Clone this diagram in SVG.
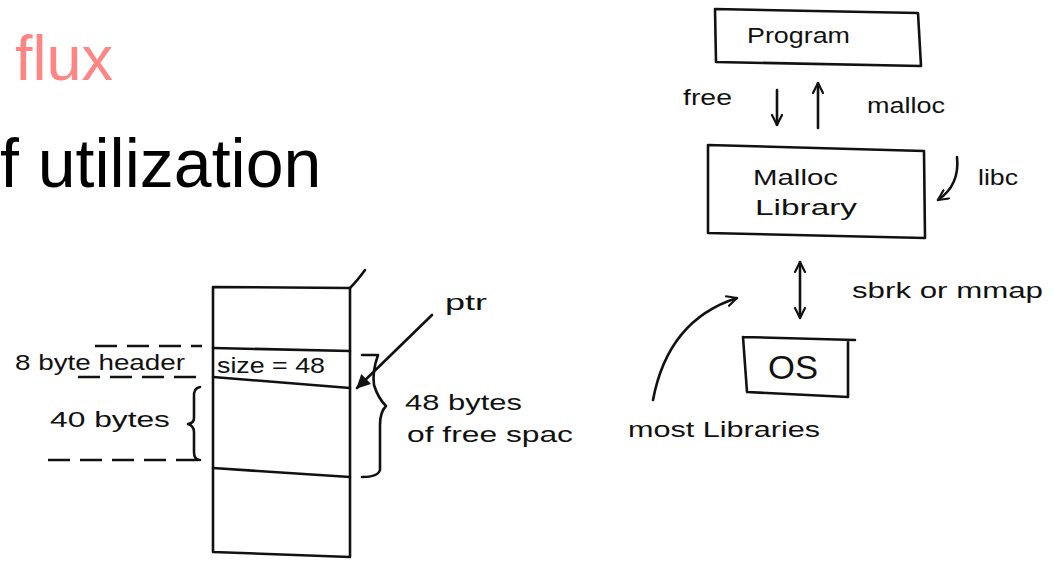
<svg xmlns="http://www.w3.org/2000/svg" width="1054" height="562" viewBox="0 0 1054 562">
<style>
.ln{fill:none;stroke:#111;stroke-width:2.6;stroke-linecap:round;stroke-linejoin:round}
.ds{fill:none;stroke:#111;stroke-width:2.6;stroke-dasharray:22 10}
.hw{font-family:"Liberation Sans",Arial,sans-serif;font-size:22px;fill:#111}
.big{font-size:34px}
.title{font-family:"Liberation Sans",Arial,sans-serif}
</style>
<defs>
<marker id="open" viewBox="0 0 12 12" refX="11" refY="6" markerWidth="12" markerHeight="12" markerUnits="userSpaceOnUse" orient="auto-start-reverse">
<path d="M1,1 L11,6 L1,11" fill="none" stroke="#111" stroke-width="2.2" stroke-linecap="round" stroke-linejoin="round"/>
</marker>
<marker id="solid" viewBox="0 0 12 12" refX="11" refY="6" markerWidth="14" markerHeight="14" markerUnits="userSpaceOnUse" orient="auto">
<path d="M0,0 L12,6 L0,12 Z" fill="#111"/>
</marker>
</defs>
<rect width="1054" height="562" fill="#fff"/>
<text class="title" x="15" y="80" font-size="63" fill="#ff8585">flux</text>
<text class="title" x="0" y="187" font-size="68" fill="#000">f utilization</text>

<g id="memory-block">
<polygon class="ln" points="213,287 350,288 350,557 213,552"/>
<path class="ln" d="M350,288 Q357,281 365,270"/>
<line class="ln" x1="213" y1="348" x2="350" y2="351"/>
<line class="ln" x1="213" y1="377" x2="350" y2="388"/>
<line class="ln" x1="213" y1="468" x2="350" y2="477"/>
<text class="hw" x="217" y="373" textLength="108" lengthAdjust="spacingAndGlyphs">size = 48</text>
</g>
<g id="header-label">
<text class="hw" x="15" y="370" textLength="170" lengthAdjust="spacingAndGlyphs">8 byte header</text>
<line class="ds" x1="95" y1="346" x2="202" y2="346"/>
<line class="ds" x1="78" y1="377" x2="200" y2="377"/>
</g>
<g id="payload-label">
<text class="hw" x="50" y="427" textLength="120" lengthAdjust="spacingAndGlyphs">40 bytes</text>
<path class="ln" d="M200,387 Q193,388 194,398 L194,418 Q194,423 188,424 Q194,426 194,432 L194,452 Q194,460 200,460"/>
<line class="ds" x1="48" y1="460" x2="200" y2="460"/>
</g>
<g id="free-space-label">
<path class="ln" d="M362,355 L378,355 Q372,372 374,385 Q378,398 386,406 Q380,412 380,425 L380,470 Q378,477 362,477"/>
<text class="hw" x="405" y="410" textLength="117" lengthAdjust="spacingAndGlyphs">48 bytes</text>
<text class="hw" x="407" y="442" textLength="166" lengthAdjust="spacingAndGlyphs">of free spac</text>
</g>
<g id="ptr">
<text class="hw" x="445" y="310" textLength="42" lengthAdjust="spacingAndGlyphs">ptr</text>
</g>

<g id="program">
<polygon class="ln" points="715,9 918,13 921,66 716,62"/>
<text class="hw" x="747" y="43" textLength="103" lengthAdjust="spacingAndGlyphs">Program</text>
</g>
<g id="malloc-library">
<polygon class="ln" points="708,145 924,151 925,238 708,233"/>
<text class="hw" x="753" y="185" textLength="85" lengthAdjust="spacingAndGlyphs">Malloc</text>
<text class="hw" x="755" y="215" textLength="102" lengthAdjust="spacingAndGlyphs">Library</text>
</g>
<g id="os">
<path class="ln" d="M743,337 L855,340 M848,340 L848,397 L747,392 L743,337"/>
<text class="hw big" x="768" y="379" textLength="50" lengthAdjust="spacingAndGlyphs">OS</text>
</g>
<g id="labels">
<text class="hw" x="683" y="105" textLength="49" lengthAdjust="spacingAndGlyphs">free</text>
<text class="hw" x="867" y="113" textLength="78" lengthAdjust="spacingAndGlyphs">malloc</text>
<text class="hw" x="978" y="185" textLength="40" lengthAdjust="spacingAndGlyphs">libc</text>
<text class="hw" x="852" y="298" textLength="191" lengthAdjust="spacingAndGlyphs">sbrk or mmap</text>
<text class="hw" x="628" y="437" textLength="192" lengthAdjust="spacingAndGlyphs">most Libraries</text>
</g>

<g id="connectors">
<line class="ln" x1="432" y1="315" x2="357" y2="388" marker-end="url(#solid)"/>
<line class="ln" x1="777" y1="90" x2="777" y2="125" marker-end="url(#open)"/>
<line class="ln" x1="818" y1="128" x2="818" y2="83" marker-end="url(#open)"/>
<path class="ln" d="M957,157 Q960,185 938,200" marker-end="url(#open)"/>
<line class="ln" x1="800" y1="262" x2="800" y2="318" marker-start="url(#open)" marker-end="url(#open)"/>
<path class="ln" d="M653,400 Q668,320 737,298" marker-end="url(#open)"/>
</g>
</svg>
